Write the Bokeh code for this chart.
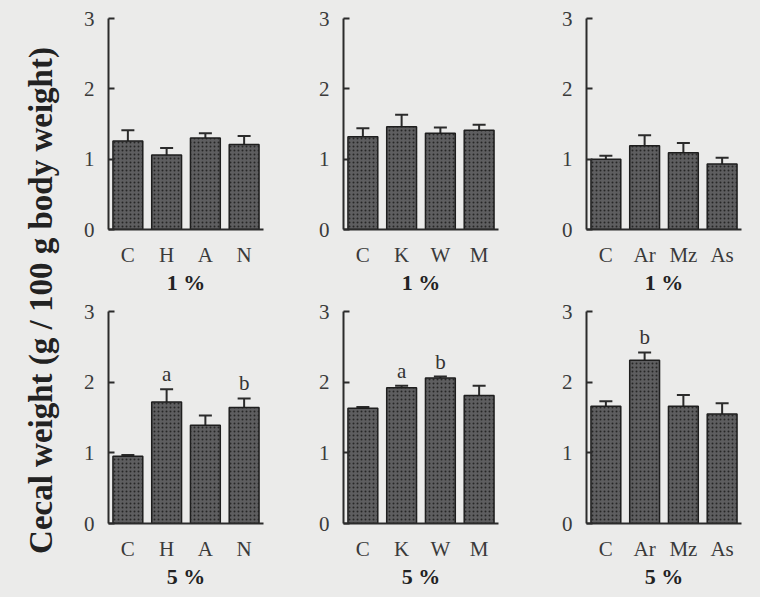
from bokeh.plotting import figure
from bokeh.models import ColumnDataSource, FactorRange, Whisker, TeeHead, Label, FixedTicker
from bokeh.layouts import row, column
from bokeh.embed import file_html
from bokeh.resources import INLINE
from bokeh.core.properties import value

BG = "#ebebea"
INK = "#2b2b2b"
SERIF = "Liberation Serif"

# ---- data ----
cats_hay = ["C", "H", "A", "N"]
cats_kwm = ["C", "K", "W", "M"]
cats_ams = ["C", "Ar", "Mz", "As"]

mean_1_hay = [1.26, 1.06, 1.30, 1.21]
sem_1_hay = [0.15, 0.10, 0.07, 0.12]
sig_1_hay = ["", "", "", ""]

mean_1_kwm = [1.32, 1.46, 1.37, 1.41]
sem_1_kwm = [0.12, 0.17, 0.08, 0.08]
sig_1_kwm = ["", "", "", ""]

mean_1_ams = [1.00, 1.19, 1.09, 0.93]
sem_1_ams = [0.05, 0.15, 0.14, 0.09]
sig_1_ams = ["", "", "", ""]

mean_5_hay = [0.95, 1.72, 1.39, 1.64]
sem_5_hay = [0.02, 0.18, 0.14, 0.13]
sig_5_hay = ["", "a", "", "b"]

mean_5_kwm = [1.63, 1.92, 2.06, 1.81]
sem_5_kwm = [0.02, 0.03, 0.02, 0.14]
sig_5_kwm = ["", "a", "b", ""]

mean_5_ams = [1.66, 2.31, 1.66, 1.55]
sem_5_ams = [0.07, 0.11, 0.16, 0.15]
sig_5_ams = ["", "b", "", ""]

y_ticks = [0, 1, 2, 3]
y_title = "Cecal weight (g / 100 g body weight)"

FRAME_W = 155


def panel(cats, means, sems, sig, dose, left_b, right_b, top_b, frame_h, bottom_b):
    src = ColumnDataSource(dict(
        x=cats, mean=means,
        upper=[m + s for m, s in zip(means, sems)],
        sig=sig,
    ))
    p = figure(x_range=FactorRange(*cats), y_range=(0, 3),
               width=left_b + FRAME_W + right_b, height=top_b + frame_h + bottom_b,
               min_border_left=left_b, min_border_right=right_b,
               min_border_top=top_b, min_border_bottom=bottom_b,
               output_backend="svg", toolbar_location=None,
               background_fill_color=BG, border_fill_color=BG)
    p.outline_line_color = None
    p.grid.visible = False

    p.vbar(x="x", top="mean", bottom=0, width=0.77, source=src,
           fill_color="#5e5e60", line_color="#1e1e1e", line_width=1.5,
           hatch_pattern="dot", hatch_color="#262626", hatch_scale=4, hatch_weight=1)
    w = Whisker(source=src, base="x", lower="mean", upper="upper", dimension="height",
                upper_head=TeeHead(size=13, line_width=2, line_color=INK),
                lower_head=None, line_width=2, line_color=INK)
    p.add_layout(w)
    p.text(x="x", y="upper", text="sig", source=src, text_align="center",
           text_baseline="alphabetic", y_offset=-15,
           text_font=value(SERIF), text_font_size="21px", text_color="#333333")

    ya = p.yaxis[0]
    ya.ticker = FixedTicker(ticks=y_ticks)
    ya.major_tick_in = 6
    ya.major_tick_out = 0
    ya.minor_tick_line_color = None
    ya.axis_line_width = 2
    ya.axis_line_color = INK
    ya.major_tick_line_width = 2
    ya.major_tick_line_color = INK
    ya.major_label_standoff = 14
    ya.major_label_text_font = SERIF
    ya.major_label_text_font_size = "21px"
    ya.major_label_text_color = "#3a3a3a"

    xa = p.xaxis[0]
    xa.major_tick_line_color = None
    xa.axis_line_width = 2
    xa.axis_line_color = INK
    xa.major_label_standoff = 7
    xa.major_label_text_font = SERIF
    xa.major_label_text_font_size = "21px"
    xa.major_label_text_color = "#3a3a3a"
    xa.axis_label = f"{dose} %"
    xa.axis_label_text_font = SERIF
    xa.axis_label_text_font_style = "bold"
    xa.axis_label_text_font_size = "22px"
    xa.axis_label_text_color = "#222222"
    xa.axis_label_standoff = 0
    return p


TOP_H = (18, 211, 72)
BOT_H = (10, 212, 74)

p1 = panel(cats_hay, mean_1_hay, sem_1_hay, sig_1_hay, 1, 40, 40, *TOP_H)
p4 = panel(cats_hay, mean_5_hay, sem_5_hay, sig_5_hay, 5, 40, 40, *BOT_H)
p2 = panel(cats_kwm, mean_1_kwm, sem_1_kwm, sig_1_kwm, 1, 40, 40, *TOP_H)
p5 = panel(cats_kwm, mean_5_kwm, sem_5_kwm, sig_5_kwm, 5, 40, 40, *BOT_H)
p3 = panel(cats_ams, mean_1_ams, sem_1_ams, sig_1_ams, 1, 48, 9, *TOP_H)
p6 = panel(cats_ams, mean_5_ams, sem_5_ams, sig_5_ams, 5, 48, 9, *BOT_H)

total_h = sum(TOP_H) + sum(BOT_H)
lab = figure(width=68, height=total_h, x_axis_location=None, y_axis_location=None,
             min_border=0, output_backend="svg", toolbar_location=None,
             background_fill_color=BG, border_fill_color=BG)
lab.outline_line_color = None
lab.grid.visible = False
lab.add_layout(Label(x=40, y=total_h - 300, x_units="screen", y_units="screen",
                     text=y_title, angle=90, angle_units="deg",
                     text_align="center", text_baseline="middle",
                     text_font=SERIF, text_font_style="bold",
                     text_font_size="33px", text_color="#222222"))

layout = row(lab, column(p1, p4), column(p2, p5), column(p3, p6))

html = file_html(layout, INLINE)
html = html.replace("</head>", "<style>html, body { background-color: #ebebea !important; }</style></head>", 1)
open("out.html", "w").write(html)
